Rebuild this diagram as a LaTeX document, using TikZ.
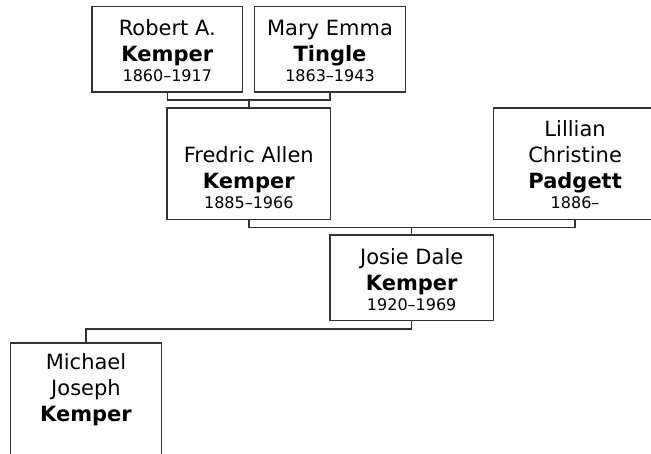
\documentclass[tikz,border=0pt]{standalone}
\usepackage{fontspec}
\setmainfont{DejaVu Sans}
\usepackage{tikz}
\usetikzlibrary{positioning}
\definecolor{LineGray}{RGB}{51, 51, 51}
\newcommand{\yrs}[1]{{\fontsize{16}{20}\selectfont #1}}

\begin{document}
\begin{tikzpicture}[
        x=1pt, y=-1pt,
        person/.style={rectangle, draw=LineGray, line width=1.5pt, fill=white, inner sep=0pt, align=center, font=\fontsize{21}{26}\selectfont},
        narrow/.style={minimum width=150.7pt},
        wide/.style={minimum width=163.3pt},
        shortrow/.style={text height=75pt, text depth=10.5pt},
        tallrow/.style={text height=100.5pt, text depth=10.8pt},
        link/.style={draw=LineGray, line width=1.5pt}
    ]
        \clip (0,0) rectangle (651,453);

        % Grandparents
        \node[person, narrow, shortrow] (robert) at (167.3,49.3) {Robert A.\\ \textbf{Kemper}\\[-6pt] \yrs{1860--1917}};
        \node[person, narrow, shortrow, right=10.5pt of robert] (mary) {Mary Emma\\ \textbf{Tingle}\\[-6pt] \yrs{1863--1943}};

        % Parents
        \node[person, wide, tallrow] (fredric) at (248.8,163.6) {Fredric Allen\\ \textbf{Kemper}\\[-6pt] \yrs{1885--1966}};
        \node[person, wide, tallrow, right=161.5pt of fredric] (lillian) {Lillian\\ Christine\\ \textbf{Padgett}\\[-6pt] \yrs{1886--}};

        % Child
        \node[person, wide, shortrow] (josie) at (411.7,277.9) {Josie Dale\\ \textbf{Kemper}\\[-6pt] \yrs{1920--1969}};

        % Grandchild
        \node[person, narrow, text height=78.3pt, text depth=38pt] (michael) at (86,401) {Michael\\ Joseph\\ \textbf{Kemper}};

        % Connections
        \draw[link] (robert.south) -- ++(0,7.3) coordinate (bar1) -| (mary.south);
        \draw[link] (fredric.north) -- (fredric.north |- bar1);
        \draw[link] (fredric.south) -- ++(0,7.4) coordinate (bar2) -| (lillian.south);
        \draw[link] (josie.north) -- (josie.north |- bar2);
        \draw[link] (josie.south) -- ++(0,7.6) -| (michael.north);
    \end{tikzpicture}
\end{document}
